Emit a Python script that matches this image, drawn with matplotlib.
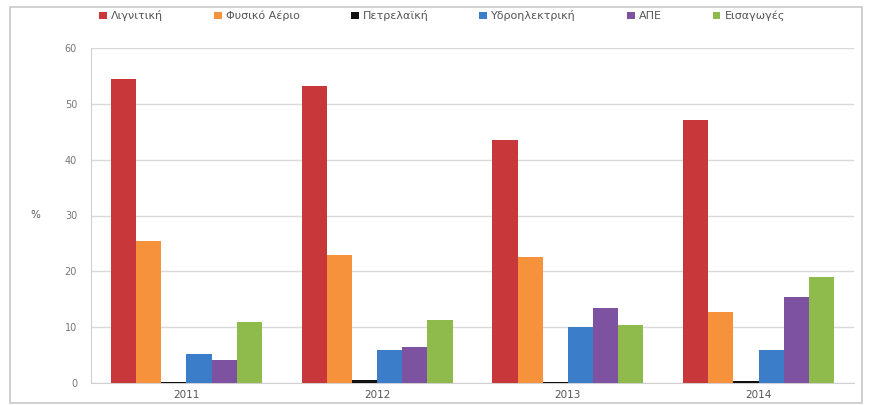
import numpy as np
import matplotlib
matplotlib.use("Agg")
import matplotlib.pyplot as plt
from matplotlib.patches import Rectangle

# electricity mix by source, % share per year
years = ["2011", "2012", "2013", "2014"]
sources = ["Λιγνιτική", "Φυσικό Αέριο", "Πετρελαϊκή", "Υδροηλεκτρική", "ΑΠΕ", "Εισαγωγές"]
lignite = [54.5, 53.2, 43.5, 47.1]
natgas = [25.4, 22.9, 22.6, 12.7]
oil = [0.2, 0.5, 0.1, 0.3]
hydro = [5.2, 5.9, 10.0, 5.9]
res = [4.1, 6.4, 13.4, 15.4]
imports = [10.9, 11.3, 10.4, 19.0]
yticks = [0, 10, 20, 30, 40, 50, 60]

series = [lignite, natgas, oil, hydro, res, imports]
colors = ["#c8383b", "#f7923c", "#111111", "#3b7dc9", "#7d52a0", "#8fba4c"]

fig = plt.figure(figsize=(8.69, 4.05), dpi=100)
ax = fig.add_axes([91 / 869, 1 - 383 / 405, (854 - 91) / 869, (383 - 48) / 405])

# outer chart frame
fig.patches.append(Rectangle((10 / 869, 2 / 405), 852 / 869, 396 / 405,
                             transform=fig.transFigure, fill=False,
                             edgecolor="#c8c8c8", lw=1.2))

x = np.arange(len(years))
bw = 0.132
for i, (vals, c, name) in enumerate(zip(series, colors, sources)):
    ax.bar(x + (i - 2.5) * bw, vals, bw, color=c, label=name, zorder=3)

ax.set_xlim(-0.5, len(years) - 0.5)
ax.set_ylim(0, 60)
ax.set_yticks(yticks)
ax.set_yticklabels([str(v) for v in yticks], fontsize=7, color="#777777")
ax.set_xticks(x)
ax.set_xticklabels(years, fontsize=7.5, color="#555555")
ax.grid(axis="y", color="#d9d9d9", lw=1.0, zorder=0)
for s in ["top", "right"]:
    ax.spines[s].set_visible(False)
ax.spines["left"].set_color("#d0d0d0")
ax.spines["bottom"].set_color("#d0d0d0")
ax.tick_params(axis="y", length=0, pad=10)
ax.tick_params(axis="x", length=0, pad=5)
ax.set_ylabel("%", fontsize=7.5, color="#555555", rotation=0, va="center")
ax.yaxis.set_label_coords(-0.073, 0.5)

ax.legend(loc="center", bbox_to_anchor=(0.46, 1.096), ncol=6, frameon=False,
          fontsize=8, handlelength=0.7, handleheight=0.7, handletextpad=0.35,
          columnspacing=4.6, labelcolor="#555555")

fig.savefig("out.png", dpi=100)
